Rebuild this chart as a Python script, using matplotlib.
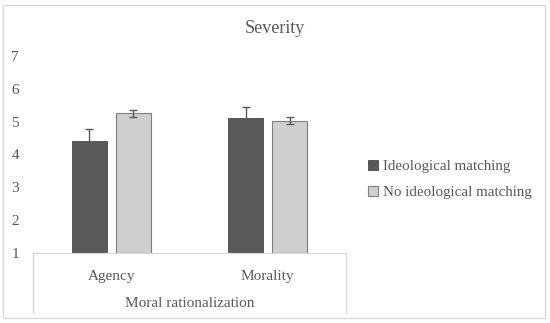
import numpy as np
import matplotlib
matplotlib.use('Agg')
import matplotlib.pyplot as plt
from matplotlib.patches import Patch, Rectangle

# data
categories = ['Agency', 'Morality']
series_names = ['Ideological matching', 'No ideological matching']
matching = [4.42, 5.11]
matching_err = [0.36, 0.35]
no_matching = [5.26, 5.03]
no_matching_err = [0.11, 0.11]
y_ticks = [1, 2, 3, 4, 5, 6, 7]
group_label = 'Moral rationalization'

text_col = '#595959'
line_col = '#D9D9D9'
plt.rcParams['font.family'] = ['Liberation Serif', 'DejaVu Serif']

fig = plt.figure(figsize=(5.5, 3.23), dpi=100)
ax = fig.add_axes([0.06, 0.2167, 0.569, 0.61])

# outer chart border
fig.patches.append(Rectangle((3 / 550, 5 / 323), 542 / 550, 313 / 323, transform=fig.transFigure,
                             fill=False, edgecolor=line_col, linewidth=1))

x = np.arange(len(categories))
w = 0.225
off = 0.141
ax.bar(x - off, np.array(matching) - 1, w, bottom=1, color='#595959', edgecolor='#4a4a4a', linewidth=0.6,
       yerr=matching_err, error_kw=dict(ecolor='#595959', elinewidth=1, capsize=3, capthick=1))
ax.bar(x + off, np.array(no_matching) - 1, w, bottom=1, color='#D0CECE', edgecolor='#7F7F7F', linewidth=0.8,
       yerr=no_matching_err, error_kw=dict(ecolor='#595959', elinewidth=1, capsize=3, capthick=1))

ax.set_xlim(-0.5, 1.5)
ax.set_ylim(1, 7)
ax.set_yticks(y_ticks)
ax.set_xticks(x)
ax.set_xticklabels(categories)
ax.tick_params(axis='both', length=0, colors=text_col, labelsize=11)
ax.tick_params(axis='x', pad=12.5)
ax.tick_params(axis='y', pad=10)
for s in ['top', 'right', 'left']:
    ax.spines[s].set_visible(False)
ax.spines['bottom'].set_color(line_col)

# multi-level category box
box_depth = -0.305
for xa in [0, 1]:
    ax.plot([xa, xa], [0, box_depth], transform=ax.transAxes, color=line_col, lw=1, clip_on=False)
ax.text(0.5, -0.258, group_label, transform=ax.transAxes, ha='center', va='center',
        color=text_col, fontsize=11)

fig.text(0.5, 0.913, 'Severity', ha='center', va='center', color=text_col, fontsize=13)

handles = [Patch(facecolor='#595959', edgecolor='#4a4a4a', linewidth=0.6),
           Patch(facecolor='#D0CECE', edgecolor='#7F7F7F', linewidth=0.8)]
leg = fig.legend(handles, series_names, loc='center left', bbox_to_anchor=(0.658, 0.444), frameon=False,
                 handlelength=0.7, handleheight=0.7, handletextpad=0.3, labelspacing=0.85,
                 fontsize=10.8, borderaxespad=0)
for t in leg.get_texts():
    t.set_color(text_col)

fig.savefig('out.png', dpi=100)
